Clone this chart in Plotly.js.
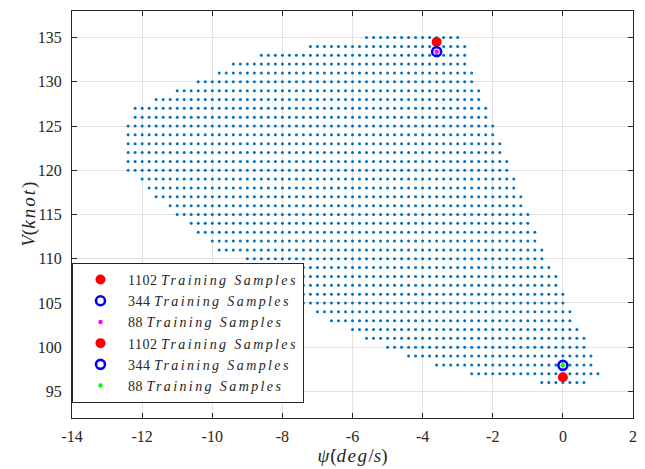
<!DOCTYPE html>
<html>
<head>
<meta charset="utf-8">
<script src="https://cdn.plot.ly/plotly-3.0.1.min.js"></script>
<style>
html, body { margin: 0; padding: 0; background: #fff; }
#chart { width: 645px; height: 469px; }
</style>
</head>
<body>
<div id="chart"></div>
<script>
// ---- Data ----
// Grid of candidate points: one row per airspeed (knot), spanning from rowLeft to rowRight (deg/s)
const rowSpeed = [135,134,133,132,131,130,129,128,127,126,125,124,123,122,121,120,119,118,117,116,115,114,113,112,111,110,109,108,107,106,105,104,103,102,101,100,99,98,97,96];
const rowLeft  = [-5.6,-7.2,-8.6,-9.4,-9.8,-10.4,-11.0,-11.6,-12.2,-12.2,-12.4,-12.4,-12.4,-12.4,-12.4,-12.4,-12.0,-11.8,-11.6,-11.2,-11.0,-10.6,-10.4,-10.0,-9.8,-9.0,-8.8,-8.6,-8.2,-7.8,-7.4,-7.0,-6.6,-6.0,-5.6,-5.0,-4.4,-3.6,-2.6,-0.6];
const rowRight = [-3.0,-2.8,-2.8,-2.8,-2.6,-2.6,-2.4,-2.4,-2.2,-2.2,-2.0,-2.0,-1.8,-1.8,-1.6,-1.6,-1.4,-1.4,-1.2,-1.2,-1.0,-1.0,-0.8,-0.8,-0.6,-0.6,-0.4,-0.2,-0.2,0.0,0.0,0.2,0.2,0.4,0.6,0.6,0.8,0.8,1.0,0.6];
const gridStep = 0.2; // spacing of the yaw-rate grid (deg/s)

// Highlighted samples (upper group and lower group)
const seriesNames = ['1102', '344', '88', '1102', '344', '88'];
const seriesX = [-3.6, -3.6, -3.6, 0.0, 0.0, 0.0];
const seriesY = [134.5, 133.4, 133.4, 96.6, 97.95, 97.95];

// Ticks and titles
const xTickVals = [-14,-12,-10,-8,-6,-4,-2,0,2];
const xTickText = ['-14','-12','-10','-8','-6','-4','-2','0','2'];
const yTickVals = [95,100,105,110,115,120,125,130,135];
const yTickText = ['95','100','105','110','115','120','125','130','135'];
const xTitle = '<i style="letter-spacing:1px">ψ̇</i>(<i style="letter-spacing:1.5px">deg</i>/<i>s</i>)';
const yTitle = '<i>V</i>(<i style="letter-spacing:2px">knot</i>)';

// ---- Build grid points from the rows ----
const gx = [], gy = [];
rowSpeed.forEach((v, i) => {
  const n = Math.round((rowRight[i] - rowLeft[i]) / gridStep);
  for (let k = 0; k <= n; k++) {
    gx.push(Math.round((rowLeft[i] + k * gridStep) * 10) / 10);
    gy.push(v);
  }
});

const serif = 'Liberation Serif';
const markerStyles = [
  {symbol: 'circle', size: 10, color: '#ff0000'},
  {symbol: 'circle-open', size: 9, color: '#0000ff', line: {width: 2.6, color: '#0000ff'}},
  {symbol: 'circle', size: 4.5, color: '#ff00ff'},
  {symbol: 'circle', size: 10, color: '#ff0000'},
  {symbol: 'circle-open', size: 9, color: '#0000ff', line: {width: 2.6, color: '#0000ff'}},
  {symbol: 'circle', size: 4.5, color: '#00ff00'}
];

const traces = [{
  type: 'scatter', mode: 'markers', x: gx, y: gy,
  marker: {symbol: 'circle', size: 3, color: '#0072BD'},
  showlegend: false, hoverinfo: 'skip'
}];
seriesNames.forEach((nm, i) => {
  traces.push({
    type: 'scatter', mode: 'markers',
    x: [seriesX[i]], y: [seriesY[i]],
    name: '<span style="letter-spacing:0.5px">' + nm + '</span> <i style="letter-spacing:2.4px">Training Samples</i>',
    marker: markerStyles[i],
    hoverinfo: 'skip'
  });
});

const axisCommon = {
  showline: true, mirror: 'ticks', linecolor: '#262626', linewidth: 1,
  ticks: 'inside', ticklen: 5, tickcolor: '#262626', tickwidth: 1,
  showgrid: true, gridcolor: '#e2e2e2', gridwidth: 1,
  zeroline: false, automargin: false,
  tickfont: {family: serif, size: 16, color: '#262626'}
};

const layout = {
  width: 645, height: 469,
  margin: {l: 72, r: 12, t: 11, b: 51},
  paper_bgcolor: '#ffffff', plot_bgcolor: '#ffffff',
  showlegend: true,
  font: {family: serif},
  xaxis: Object.assign({}, axisCommon, {
    range: [-14, 2], tickmode: 'array', tickvals: xTickVals, ticktext: xTickText,
    ticklabelstandoff: 4,
    title: {text: xTitle, font: {family: serif, size: 19, color: '#262626'}, standoff: 4}
  }),
  yaxis: Object.assign({}, axisCommon, {
    range: [92, 138], tickmode: 'array', tickvals: yTickVals, ticktext: yTickText,
    ticklabelstandoff: 6
  }),
  annotations: [{
    text: yTitle, xref: 'paper', yref: 'paper', x: -0.078, y: 0.5,
    xanchor: 'center', yanchor: 'middle', textangle: -90, showarrow: false,
    font: {family: serif, size: 19, color: '#262626'}
  }],
  legend: {
    x: 0, y: 0.037, xanchor: 'left', yanchor: 'bottom',
    bgcolor: '#ffffff', bordercolor: '#262626', borderwidth: 1,
    font: {family: serif, size: 14, color: '#262626'},
    itemwidth: 45, tracegroupgap: 0
  }
};

Plotly.newPlot('chart', traces, layout, {staticPlot: true, displayModeBar: false});
</script>
</body>
</html>
